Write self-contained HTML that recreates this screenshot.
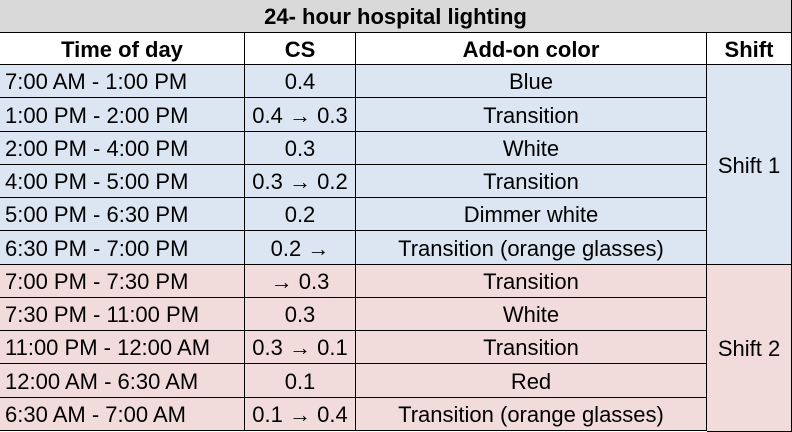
<!DOCTYPE html>
<html><head><meta charset="utf-8"><style>
body{margin:0;width:792px;height:431px;background:#fff;overflow:hidden;font-family:"Liberation Sans",sans-serif;}
.c{position:absolute;box-sizing:border-box;display:flex;align-items:center;justify-content:center;font-size:22px;color:#000;border-right:1.5px solid #000;border-bottom:1.5px solid #000;white-space:nowrap;padding-top:2px;}
.l{justify-content:flex-start;padding-left:5px;}
.b{font-weight:bold;font-size:22px;}
.a{font-size:18px;}
</style></head><body>
<div id="t" style="position:absolute;left:0;top:0;width:792px;height:431px;border-left:1px solid #000;border-top:1px solid #000;box-sizing:border-box;"></div>
<script>
const rows=[
["7:00 AM - 1:00 PM","0.4","Blue"],
["1:00 PM - 2:00 PM","0.4 → 0.3","Transition"],
["2:00 PM - 4:00 PM","0.3","White"],
["4:00 PM - 5:00 PM","0.3 → 0.2","Transition"],
["5:00 PM - 6:30 PM","0.2","Dimmer white"],
["6:30 PM - 7:00 PM","0.2 →","Transition (orange glasses)"],
["7:00 PM - 7:30 PM","→ 0.3","Transition"],
["7:30 PM - 11:00 PM","0.3","White"],
["11:00 PM - 12:00 AM","0.3 → 0.1","Transition"],
["12:00 AM - 6:30 AM","0.1","Red"],
["6:30 AM - 7:00 AM","0.1 → 0.4","Transition (orange glasses)"]];
const t=document.getElementById('t');
const cx=[0,245,356,707,792];
function cell(x,y,w,h,txt,cls,bg,name){
 const d=document.createElement('div');
 d.className='c '+(cls||'');
 d.style.cssText+=`left:${x-1}px;top:${y-1}px;width:${w}px;height:${h}px;background:${bg};`;
 d.textContent=txt;
 
 
 t.appendChild(d);
}
cell(0,0,792,33,'24- hour hospital lighting','b','#d9d9d9','table-title');
const hd=['Time of day','CS','Add-on color','Shift'];
for(let i=0;i<4;i++) cell(cx[i],33,cx[i+1]-cx[i],32,hd[i],'b','#fff','header-'+i);
const rh=(431-65)/11;
rows.forEach((r,i)=>{
 const y=Math.round(65+i*rh), h=Math.round(65+(i+1)*rh)-y;
 const bg=i<6?'#dce6f2':'#f2dcdb';
 cell(cx[0],y,cx[1]-cx[0],h,r[0],'l',bg,'time-cell');
 cell(cx[1],y,cx[2]-cx[1],h,r[1],'',bg,'cs-cell');
 cell(cx[2],y,cx[3]-cx[2],h,r[2],'',bg,'color-cell');
});
const y6=Math.round(65+6*rh);
cell(cx[3],65,cx[4]-cx[3],y6-65,'Shift 1','','#dce6f2','shift-1');
cell(cx[3],y6,cx[4]-cx[3],432-y6,'Shift 2','','#f2dcdb','shift-2');
</script>
</body></html>
